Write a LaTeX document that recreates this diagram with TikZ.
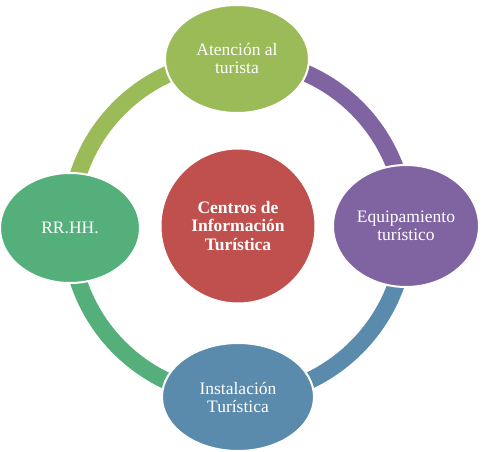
\documentclass[tikz,border=0pt]{standalone}
\usepackage{fontspec}
\setmainfont{Liberation Serif}
\usetikzlibrary{shapes.geometric}
\definecolor{cgreenA}{HTML}{9BBB59}
\definecolor{cgreenB}{HTML}{55AF7B}
\definecolor{cpurple}{HTML}{8064A2}
\definecolor{cblue}{HTML}{5B8BAC}
\definecolor{cred}{HTML}{C0504D}
\begin{document}
\begin{tikzpicture}[x=1pt,y=1pt,
  bubble/.style={ellipse, draw=white, line width=2pt, inner sep=0pt, text=white,
    align=center, font=\fontsize{17.5}{18}\selectfont},
  ringseg/.style={line width=17pt, line cap=butt}]
\useasboundingbox (0,0) rectangle (488,451);
\coordinate (c) at (238,225);
\coordinate (pt) at (237,392);
\coordinate (pr) at (406,225);
\coordinate (pb) at (238,54);
\coordinate (pl) at (70,223);
% ring segments
\draw[ringseg, cpurple] (pt) to[bend left=45] (pr);
\draw[ringseg, cblue] (pr) to[bend left=45] (pb);
\draw[ringseg, cgreenB] (pb) to[bend left=45] (pl);
\draw[ringseg, cgreenA] (pl) to[bend left=45] (pt);
% nodes
\node[bubble, fill=cgreenA, minimum width=144pt, minimum height=108pt] (top) at (pt) {Atención al\\turista};
\node[bubble, fill=cpurple, minimum width=146pt, minimum height=122pt] (right) at (pr) {Equipamiento\\turístico};
\node[bubble, fill=cblue, minimum width=152pt, minimum height=108pt] (bottom) at (pb) {Instalación\\Turística};
\node[bubble, fill=cgreenB, minimum width=140pt, minimum height=110pt] (left) at (pl) {RR.HH.};
\node[bubble, circle, fill=cred, minimum size=155pt, font=\fontsize{17.5}{18.3}\selectfont\bfseries] (center) at (c) {Centros de\\Información\\Turística};
\end{tikzpicture}
\end{document}
